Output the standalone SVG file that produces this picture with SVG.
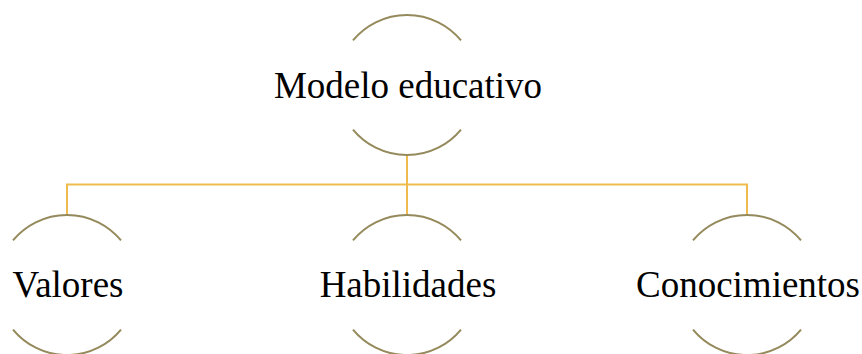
<svg xmlns="http://www.w3.org/2000/svg" width="862" height="354" viewBox="0 0 862 354">
<style>
.arc{fill:none;stroke:#948a5c;stroke-width:2}
.conn{fill:none;stroke:#f0bb4e;stroke-width:2}
.lbl{font-family:"Liberation Serif","Times New Roman",serif;font-size:37px;fill:#000;text-anchor:middle}
</style>
<rect width="862" height="354" fill="#fff"/>
<g id="connectors">
<path class="conn" d="M407 155 V215 M67 215 V184.5 H747 V215"/>
</g>
<g id="node-modelo">
<path class="arc" d="M353 40.4 A70 70 0 0 1 461 40.4"/>
<path class="arc" d="M461 129.6 A70 70 0 0 1 353 129.6"/>
<text class="lbl" x="408" y="98">Modelo educativo</text>
</g>
<g id="node-valores">
<path class="arc" d="M13 240.4 A70 70 0 0 1 121 240.4"/>
<path class="arc" d="M121 329.6 A70 70 0 0 1 13 329.6"/>
<text class="lbl" x="68" y="297">Valores</text>
</g>
<g id="node-habilidades">
<path class="arc" d="M353 240.4 A70 70 0 0 1 461 240.4"/>
<path class="arc" d="M461 329.6 A70 70 0 0 1 353 329.6"/>
<text class="lbl" x="408" y="297">Habilidades</text>
</g>
<g id="node-conocimientos">
<path class="arc" d="M693 240.4 A70 70 0 0 1 801 240.4"/>
<path class="arc" d="M801 329.6 A70 70 0 0 1 693 329.6"/>
<text class="lbl" x="748" y="297">Conocimientos</text>
</g>
</svg>
